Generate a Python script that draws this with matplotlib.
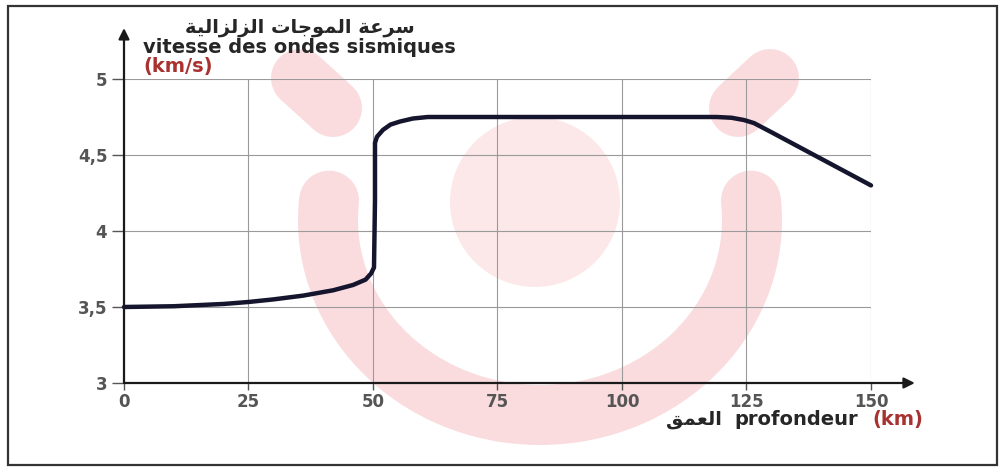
"""Seismic wave speed vs depth (recreated figure)
"""

# imports
import numpy as np
import matplotlib
matplotlib.use('Agg')
import matplotlib.pyplot as plt
from matplotlib.patches import Rectangle, Circle

# data
depth = [0, 10, 20, 25, 30, 36, 42, 46, 48.5, 49.6, 50.2, 50.4, 50.4, 50.8, 52,
         53.5, 55.4, 58, 61, 65, 100, 119, 122, 124.5, 126.5, 130, 140, 150]
speed = [3.50, 3.505, 3.52, 3.533, 3.55, 3.575, 3.61, 3.645, 3.68, 3.72, 3.76,
         4.2, 4.58, 4.62, 4.665, 4.70, 4.72, 4.74, 4.75, 4.75, 4.75, 4.75,
         4.745, 4.73, 4.71, 4.65, 4.475, 4.30]

x_ticks = [0, 25, 50, 75, 100, 125, 150]
y_ticks = [3, 3.5, 4, 4.5, 5]
y_tick_labels = ['3', '3,5', '4', '4,5', '5']

# Arabic labels, written in shaped presentation forms (visual order),
# since matplotlib does no Arabic shaping itself
# "سرعة الموجات الزلزالية"
speed_ar = ('\uFE94\uFEF4\uFEDF\uFE8D\uFEB0\uFEDF\uFEB0\uFEDF\uFE8D '
            '\uFE95\uFE8E\uFE9F\uFEEE\uFEE4\uFEDF\uFE8D '
            '\uFE94\uFECB\uFEAE\uFEB3')
# "العمق"
depth_ar = '\uFED6\uFEE4\uFECC\uFEDF\uFE8D'

# figure layout (pixels)
W, H = 1003, 468
x0_px, x150_px = 124, 871
y3_px, y5_px = 383, 79

text_col = '#262626'
red_col = '#a8322f'
pink = '#fadcdf'

fig = plt.figure(figsize=(W/100, H/100), dpi=100)

# background layer in pixel coords: frame + faint watermark
bg = fig.add_axes([0, 0, 1, 1], zorder=0)
bg.set_xlim(0, W)
bg.set_ylim(H, 0)
bg.axis('off')

t = np.radians(np.linspace(-5.7, 185.7, 200))
bg.plot(540 + 212*np.cos(t), 220 + 195*np.sin(t), color=pink,
        lw=60*0.72, solid_capstyle='round')
bg.add_patch(Circle((535, 202), 85, color='#fce8e9', lw=0))
bg.plot([300, 333], [78, 108], color=pink, lw=58*0.72, solid_capstyle='round')
bg.plot([738, 770], [108, 78], color=pink, lw=58*0.72, solid_capstyle='round')
bg.plot([413, 413], [-60, -3], color=pink, lw=66*0.72, solid_capstyle='round')

bg.add_patch(Rectangle((8, 6), 989, 459, fill=False, ec='#333333', lw=1.6))

# axis labels
fs = 14
bg.text(185, 33, speed_ar, fontsize=fs, fontweight='bold', color=text_col,
        va='baseline', ha='left')
bg.text(143, 53, 'vitesse des ondes sismiques', fontsize=fs, fontweight='bold',
        color=text_col, va='baseline', ha='left')
bg.text(143, 72, '(km/s)', fontsize=fs, fontweight='bold', color=red_col,
        va='baseline', ha='left')
bg.text(722, 425, depth_ar, fontsize=fs, fontweight='bold', color=text_col,
        va='baseline', ha='right')
bg.text(734, 425, 'profondeur', fontsize=fs, fontweight='bold', color=text_col,
        va='baseline', ha='left')
bg.text(872, 425, '(km)', fontsize=fs, fontweight='bold', color=red_col,
        va='baseline', ha='left')

# main axes
ax = fig.add_axes([x0_px/W, (H - y3_px)/H, (x150_px - x0_px)/W,
                   (y3_px - y5_px)/H], zorder=1)
ax.patch.set_alpha(0)
ax.set_xlim(0, 150)
ax.set_ylim(3, 5)
for s in ax.spines.values():
    s.set_visible(False)

ax.set_xticks(x_ticks)
ax.set_yticks(y_ticks)
ax.set_yticklabels(y_tick_labels)
ax.grid(color='#9a9a9a', lw=0.8)
ax.tick_params(axis='y', length=9, width=1, color='#555555', pad=3,
               labelsize=12, labelcolor='#555555')
ax.tick_params(axis='x', length=5, width=1, color='#555555', pad=2,
               labelsize=12, labelcolor='#555555')
for lab in ax.get_xticklabels() + ax.get_yticklabels():
    lab.set_fontweight('bold')

# axis arrows
arrow = dict(arrowstyle='-|>', color='#1a1a1a', lw=1.6, mutation_scale=16,
             shrinkA=0, shrinkB=0)
ax.annotate('', xy=(158.8, 3), xytext=(0, 3), arrowprops=arrow,
            annotation_clip=False)
ax.annotate('', xy=(0, 5.335), xytext=(0, 3), arrowprops=arrow,
            annotation_clip=False)

# the curve
ax.plot(depth, speed, color='#15152e', lw=3.2, solid_capstyle='round',
        solid_joinstyle='round', zorder=3, clip_on=False)

fig.savefig('out.png', dpi=100)
